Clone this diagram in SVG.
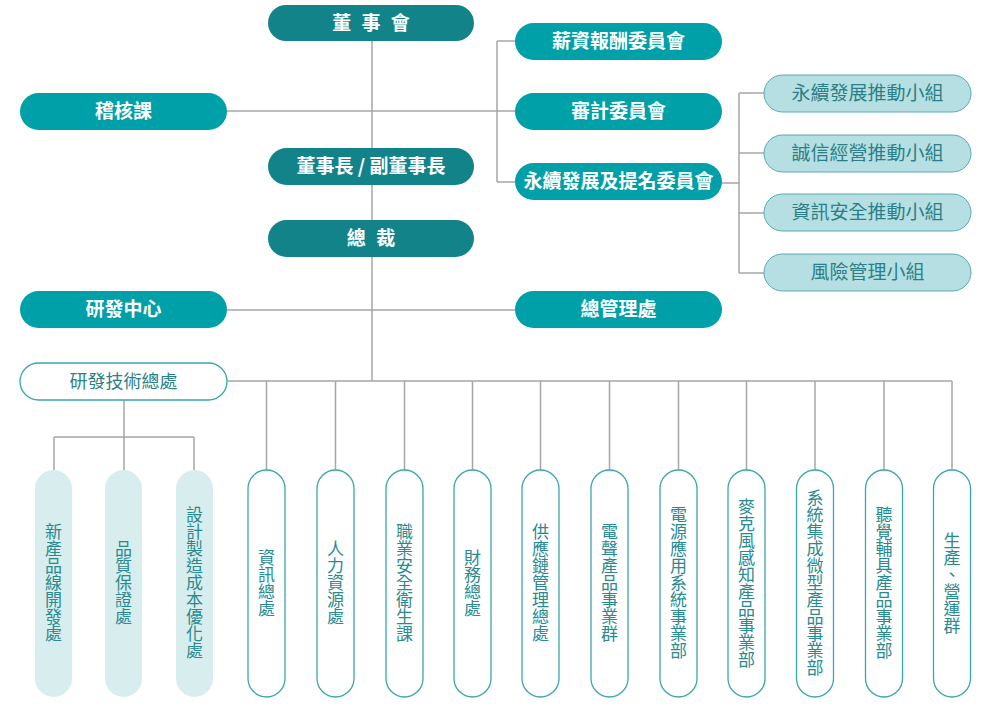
<svg xmlns="http://www.w3.org/2000/svg" width="985" height="708" viewBox="0 0 985 708">
<style>
.dk{fill:#13838a}
.md{fill:#00a0a8}
.lt{fill:#b5dfe2;stroke:#5aa9ae;stroke-width:1}
.wp{fill:#ffffff;stroke:#3aa7ae;stroke-width:1.3}
.lp{fill:#d8eeee}
.tw{font-family:"Noto Sans CJK TC","Noto Sans CJK SC",sans-serif;font-size:19px;font-weight:bold;fill:#ffffff;text-anchor:middle}
.sp{letter-spacing:3px}
.tl{font-family:"Noto Sans CJK TC","Noto Sans CJK SC",sans-serif;font-size:19px;fill:#2b7f86;text-anchor:middle}
.tr{font-family:"Noto Sans CJK TC","Noto Sans CJK SC",sans-serif;font-size:18px;fill:#2b7f86;text-anchor:middle}
.tv{font-family:"Noto Sans CJK TC","Noto Sans CJK SC",sans-serif;font-size:17px;fill:#2a8a90;text-anchor:middle;writing-mode:vertical-rl}
.ln{fill:none;stroke:#a6a6a6;stroke-width:1.5}
</style>
<g id="connectors" class="ln">
<path d="M372 41V381"/>
<path d="M227 111H497"/>
<path d="M497 41V182M497 41H515M497 111H515M497 182H515"/>
<path d="M722 183H739M739 93V273M739 93H764M739 153H764M739 213H764M739 273H764"/>
<path d="M227 310H515"/>
<path d="M227 381H952"/>
<path d="M266.5 381V470M335.5 381V470M404.5 381V470M472.5 381V470M540.5 381V470M609.5 381V470M678.5 381V470M746.5 381V470M815 381V470M884 381V470M952 381V470"/>
<path d="M124 400V470M54 437H194M54 437V470M194 437V470"/>
</g>
<g id="n-board"><rect class="dk" x="268" y="5" width="206" height="36" rx="18"/><text class="tw sp" x="372.5" y="30">董 事 會</text></g>
<g id="n-audit-sec"><rect class="md" x="20" y="93" width="207" height="37" rx="18.5"/><text class="tw" x="123.5" y="118">稽核課</text></g>
<g id="n-chair"><rect class="dk" x="268" y="148" width="206" height="37" rx="18.5"/><text class="tw" x="371" y="173">董事長 / 副董事長</text></g>
<g id="n-pay"><rect class="md" x="515" y="23" width="207" height="37" rx="18.5"/><text class="tw" x="618.5" y="48">薪資報酬委員會</text></g>
<g id="n-auditc"><rect class="md" x="515" y="93" width="207" height="37" rx="18.5"/><text class="tw" x="618.5" y="118">審計委員會</text></g>
<g id="n-esg"><rect class="md" x="515" y="163" width="207" height="37" rx="18.5"/><text class="tw" x="618.5" y="188">永續發展及提名委員會</text></g>
<g id="n-g1"><rect class="lt" x="764" y="75" width="207" height="37" rx="18.5"/><text class="tl" x="867.5" y="100">永續發展推動小組</text></g>
<g id="n-g2"><rect class="lt" x="764" y="135" width="207" height="37" rx="18.5"/><text class="tl" x="867.5" y="160">誠信經營推動小組</text></g>
<g id="n-g3"><rect class="lt" x="764" y="194" width="207" height="37" rx="18.5"/><text class="tl" x="867.5" y="219">資訊安全推動小組</text></g>
<g id="n-g4"><rect class="lt" x="764" y="254" width="207" height="37" rx="18.5"/><text class="tl" x="867.5" y="279">風險管理小組</text></g>
<g id="n-ceo"><rect class="dk" x="268" y="220" width="206" height="37" rx="18.5"/><text class="tw sp" x="372.5" y="245">總 裁</text></g>
<g id="n-rdc"><rect class="md" x="20" y="291" width="207" height="37" rx="18.5"/><text class="tw" x="123.5" y="316">研發中心</text></g>
<g id="n-gm"><rect class="md" x="515" y="291" width="207" height="37" rx="18.5"/><text class="tw" x="618.5" y="316">總管理處</text></g>
<g id="n-rdt"><rect class="wp" x="20" y="363" width="207" height="37" rx="18.5"/><text class="tr" x="123.5" y="388">研發技術總處</text></g>
<g id="v1"><rect class="lp" x="35" y="470" width="37" height="227" rx="18.5"/><text class="tv" x="53.5" y="583">新產品線開發處</text></g>
<g id="v2"><rect class="lp" x="105" y="470" width="37" height="227" rx="18.5"/><text class="tv" x="123.5" y="583">品質保證處</text></g>
<g id="v3"><rect class="lp" x="176" y="470" width="37" height="227" rx="18.5"/><text class="tv" x="194.5" y="583">設計製造成本優化處</text></g>
<g id="v4"><rect class="wp" x="248" y="470" width="37" height="227" rx="18.5"/><text class="tv" x="266.5" y="583">資訊總處</text></g>
<g id="v5"><rect class="wp" x="317" y="470" width="37" height="227" rx="18.5"/><text class="tv" x="335.5" y="583">人力資源處</text></g>
<g id="v6"><rect class="wp" x="386" y="470" width="37" height="227" rx="18.5"/><text class="tv" x="404.5" y="583">職業安全衛生課</text></g>
<g id="v7"><rect class="wp" x="454" y="470" width="37" height="227" rx="18.5"/><text class="tv" x="472.5" y="583">財務總處</text></g>
<g id="v8"><rect class="wp" x="522" y="470" width="37" height="227" rx="18.5"/><text class="tv" x="540.5" y="583">供應鏈管理總處</text></g>
<g id="v9"><rect class="wp" x="591" y="470" width="37" height="227" rx="18.5"/><text class="tv" x="609.5" y="583">電聲產品事業群</text></g>
<g id="v10"><rect class="wp" x="660" y="470" width="37" height="227" rx="18.5"/><text class="tv" x="678.5" y="583">電源應用系統事業部</text></g>
<g id="v11"><rect class="wp" x="728" y="470" width="37" height="227" rx="18.5"/><text class="tv" x="746.5" y="583">麥克風感知產品事業部</text></g>
<g id="v12"><rect class="wp" x="796.5" y="470" width="37" height="227" rx="18.5"/><text class="tv" x="815" y="583">系統集成微型產品事業部</text></g>
<g id="v13"><rect class="wp" x="865.5" y="470" width="37" height="227" rx="18.5"/><text class="tv" x="884" y="583">聽覺輔具產品事業部</text></g>
<g id="v14"><rect class="wp" x="933.5" y="470" width="37" height="227" rx="18.5"/><text class="tv" x="952" y="583">生產、營運群</text></g>
</svg>
